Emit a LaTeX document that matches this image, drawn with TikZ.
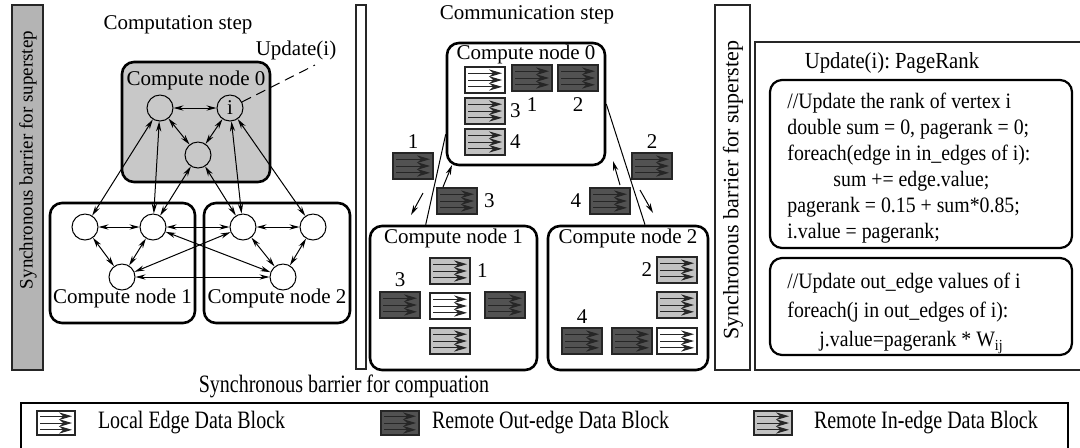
\documentclass[tikz,border=0pt]{standalone}
\usepackage{fontspec}
\setmainfont{Liberation Serif}
\newfontfamily\codefont[FakeStretch=0.9]{Liberation Serif}
\newfontfamily\narrowfont[FakeStretch=0.8]{Liberation Serif}
\usetikzlibrary{arrows.meta,positioning}

\definecolor{barfill}{RGB}{180,180,180}
\definecolor{cnfill}{RGB}{200,200,200}
\definecolor{outgray}{RGB}{82,82,82}
\definecolor{ingray}{RGB}{194,194,194}

\tikzset{
    %Define standard arrow tip
    >={Stealth[length=5pt,width=2.6pt]},
    cnode/.style={
      rectangle,
      rounded corners=6pt,
      draw=black, line width=1.3pt},
    vert/.style={
      circle,
      draw=black, line width=0.5pt,
      minimum size=13pt,
      inner sep=0pt,
      font=\fontsize{10.5}{12}\selectfont},
    link/.style={<->, line width=0.5pt},
    blk/.style={
      rectangle,
      draw=black!85, line width=0.6pt,
      minimum width=20pt, minimum height=13pt,
      inner sep=0pt,
      path picture={
        \foreach \dy in {-3.4pt,0pt,3.4pt}
          \draw[line width=0.5pt, -{Stealth[length=6.5pt,width=3.8pt]}]
            ([xshift=1.5pt,yshift=\dy]path picture bounding box.west) --
            ([xshift=-1.5pt,yshift=\dy]path picture bounding box.east);
      }},
    localblk/.style={blk, fill=white},
    outblk/.style={blk, fill=outgray},
    inblk/.style={blk, fill=ingray},
    barrier/.style={draw=black!85, line width=1pt},
    txt/.style={font=\fontsize{10.5}{12.5}\selectfont, inner sep=1pt},
    num/.style={font=\fontsize{10.5}{12.5}\selectfont, inner sep=0pt},
    legtxt/.style={font=\narrowfont\fontsize{12.5}{14}\selectfont, inner sep=0pt},
    codetxt/.style={
      anchor=north west,
      align=left,
      inner sep=0pt},
}

\begin{document}
\begin{tikzpicture}[x=0.5pt, y=-0.5pt]
    \useasboundingbox (0,0) rectangle (1080,447);

    % barriers between the steps
    \draw[barrier, fill=barfill] (12,5) rectangle (43,370);
    \node (lbartxt) [rotate=90, font=\fontsize{9.5}{11}\selectfont] at (28,160)
          {Synchronous barrier for superstep};
    \draw[barrier, fill=white] (356,5) rectangle (366,369);
    \draw[barrier, fill=white] (715,5) rectangle (750,370);
    \node (rbartxt) [rotate=90, font=\fontsize{11}{13}\selectfont] at (733,190)
          {Synchronous barrier for superstep};

    % computation step
    \node (compstep) [txt] at (178,25) {Computation step};
    \node (upd) [txt] at (296,50) {Update(i)};
    \node (cn0) [cnode, fill=cnfill, minimum width=74pt, minimum height=60pt]
          at (196,122) {};
    \node (cn1) [cnode, minimum width=72.5pt, minimum height=60pt]
          at (122.5,263) {};
    \node (cn2) [cnode, minimum width=73pt, minimum height=60pt]
          at (277,263) {};
    \node (cn0lbl) [txt] [below=4pt of cn0.north] {Compute node 0};
    \node (cn1lbl) [txt] [above=7pt of cn1.south] {Compute node 1};
    \node (cn2lbl) [txt] [above=7pt of cn2.south] {Compute node 2};

    \node (v0a) [vert] at (160,108) {};
    \node (v0i) [vert] at (230,108) {i}
          edge [link] (v0a);
    \node (v0c) [vert] at (198,155) {}
          edge [link] (v0a)
          edge [link] (v0i);
    \node (v1a) [vert] at (85,227) {}
          edge [link] (v0a);
    \node (v1b) [vert] at (153,227) {}
          edge [link] (v0a)
          edge [link] (v0c)
          edge [link] (v1a);
    \node (v1c) [vert] at (122,277) {}
          edge [link] (v1a)
          edge [link] (v1b);
    \node (v2a) [vert] at (243,227) {}
          edge [link] (v0c)
          edge [link] (v0i)
          edge [link] (v1b)
          edge [link] (v1c);
    \node (v2b) [vert] at (313,227) {}
          edge [link] (v0i)
          edge [link] (v2a);
    \node (v2c) [vert] at (283,277) {}
          edge [link] (v1b)
          edge [link] (v1c)
          edge [link] (v2a)
          edge [link] (v2b);
    \coordinate (updfoot) at (315,65);
    \draw[dash pattern=on 5pt off 3pt, line width=0.5pt] (v0i) -- (updfoot);

    % communication step
    \node (commstep) [txt] at (527,15) {Communication step};
    \node (cm0) [cnode, minimum width=79pt, minimum height=61pt] at (526,104) {};
    \node (cm1) [cnode, minimum width=83.5pt, minimum height=72pt] at (453.5,298) {};
    \node (cm2) [cnode, minimum width=80pt, minimum height=72pt] at (628,298) {};
    \node (cm0lbl) [txt] [below=0.5pt of cm0.north] {Compute node 0};
    \node (cm1lbl) [txt] [below=1pt of cm1.north] {Compute node 1};
    \node (cm2lbl) [txt] [below=1pt of cm2.north] {Compute node 2};

    \node (loc0) [localblk] at (485,80) {};
    \node (out01) [outblk] at (532,78) {};
    \node (out02) [outblk] at (578,78) {};
    \node (in03) [inblk] at (485,111) {};
    \node (in04) [inblk] at (485,142) {};
    \node (n01) [num] [below=3pt of out01] {1};
    \node (n02) [num] [below=3pt of out02] {2};
    \node (n03) [num] [right=2pt of in03] {3};
    \node (n04) [num] [right=2pt of in04] {4};

    \node (sendL) [outblk] at (413,166) {};
    \node (nsendL) [num] [above=2pt of sendL] {1};
    \node (recvL) [outblk] at (457,201) {};
    \node (nrecvL) [num] [right=3pt of recvL] {3};
    \node (sendR) [outblk] at (652,166) {};
    \node (nsendR) [num] [above=2pt of sendR] {2};
    \node (recvR) [outblk] at (610,201) {};
    \node (nrecvR) [num] [left=4pt of recvR] {4};

    \draw[line width=0.5pt] ([yshift=16pt]cm0.south west) -- ([xshift=28.5pt]cm1.north west);
    \draw[line width=0.5pt] (cm0.east) -- ([xshift=8.5pt]cm2.north);
    \coordinate (sendLa) at (423,193);
    \coordinate (sendLb) at (411,215);
    \coordinate (recvLa) at (443,187);
    \coordinate (recvLb) at (452,165);
    \coordinate (sendRa) at (640,190);
    \coordinate (sendRb) at (653,213);
    \coordinate (recvRa) at (620,185);
    \coordinate (recvRb) at (613,161);
    \draw[->, line width=0.5pt] (sendLa) -- (sendLb);
    \draw[->, line width=0.5pt] (recvLa) -- (recvLb);
    \draw[->, line width=0.5pt] (sendRa) -- (sendRb);
    \draw[->, line width=0.5pt] (recvRa) -- (recvRb);

    \node (in11) [inblk] at (450,271) {};
    \node (nin11) [num] [right=3pt of in11] {1};
    \node (out13) [outblk] at (400,305) {};
    \node (nout13) [num] [above=2pt of out13] {3};
    \node (loc1) [localblk] at (450,306) {};
    \node (out1r) [outblk] at (505,305) {};
    \node (in1b) [inblk] at (450,341) {};

    \node (in22) [inblk] at (677,270) {};
    \node (nin22) [num] [left=2pt of in22] {2};
    \node (in2m) [inblk] at (677,305) {};
    \node (out24) [outblk] at (582,341) {};
    \node (nout24) [num] [above=2pt of out24] {4};
    \node (out2m) [outblk] at (632,341) {};
    \node (loc2) [localblk] at (677,341) {};

    % update function
    \draw[barrier] (755,42) rectangle (1090,370);
    \node (updtitle) [font=\codefont\fontsize{11.5}{13}\selectfont] at (892,63)
          {Update(i):~PageRank};
    \node (code1) [cnode, line width=1.1pt, minimum width=151pt, minimum height=84pt]
          at (921,164) {};
    \node (code2) [cnode, line width=1.1pt, minimum width=151pt, minimum height=48.5pt]
          at (921,306.5) {};
    \node (code1txt) [codetxt, font=\codefont\fontsize{11}{13}\selectfont] at (787,93)
          {//Update the rank of vertex i\\
           double sum = 0, pagerank = 0;\\
           foreach(edge in in\_edges of i):\\
           \hspace*{23pt}sum += edge.value;\\
           pagerank = 0.15 + sum*0.85;\\
           i.value = pagerank;};
    \node (code2txt) [codetxt, font=\codefont\fontsize{11}{14.5}\selectfont] at (787,273)
          {//Update out\_edge values of i\\
           foreach(j in out\_edges of i):\\
           \hspace*{16pt}j.value=pagerank * W\textsubscript{ij}};

    % legend
    \node (barcomp) [legtxt] at (344,386)
          {Synchronous barrier for compuation};
    \draw[line width=0.6pt] (21,403) rectangle (1068,455);
    \node (keyloc) [localblk, minimum width=19pt, minimum height=12pt] at (56,423) {};
    \node (keyloctxt) [legtxt] [right=11pt of keyloc] {Local Edge Data Block};
    \node (keyout) [outblk, minimum width=19pt, minimum height=12pt] at (400,423) {};
    \node (keyouttxt) [legtxt] [right=6pt of keyout] {Remote Out-edge Data Block};
    \node (keyin) [inblk, minimum width=19pt, minimum height=12pt] at (773,423) {};
    \node (keyintxt) [legtxt] [right=10.5pt of keyin] {Remote In-edge Data Block};
\end{tikzpicture}
\end{document}
